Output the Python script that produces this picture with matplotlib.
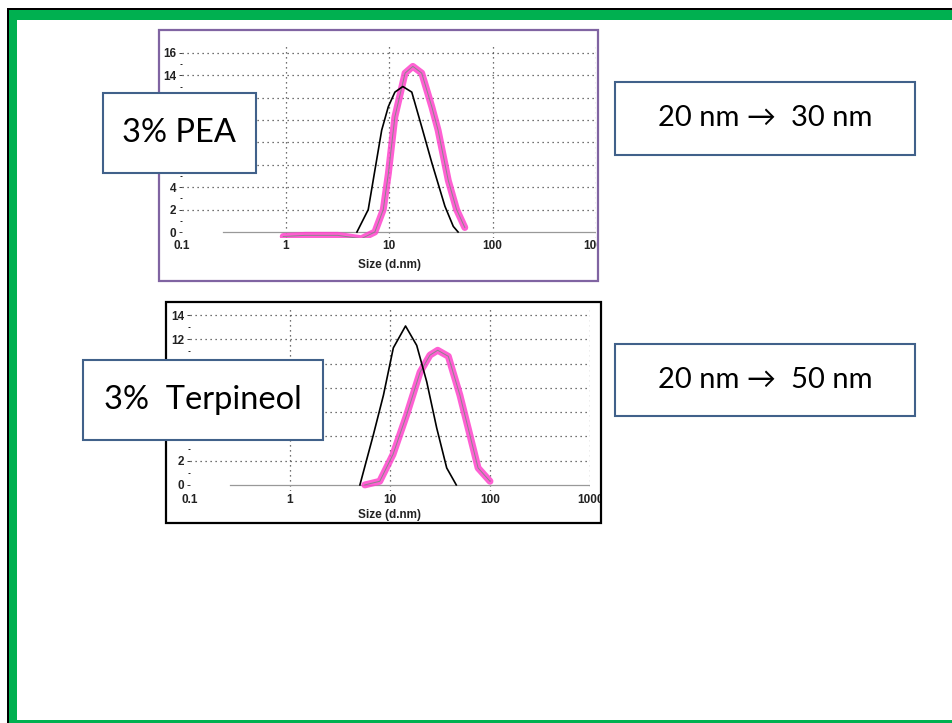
import numpy as np
import matplotlib
matplotlib.use("Agg")
import matplotlib.pyplot as plt
from matplotlib.patches import Rectangle
from matplotlib.transforms import Bbox, TransformedBbox

# ---- data (size in d.nm, intensity %) ----
pea_before_x = [4.9, 6.3, 7.3, 8.5, 9.85, 11.4, 13.6, 16.6, 20.7, 25.9, 34.7, 41.8, 46.5]
pea_before_y = [0.0, 2.0, 5.5, 9.1, 11.2, 12.5, 13.0, 12.5, 9.4, 6.2, 2.3, 0.5, 0.0]
pea_after_x = [0.95, 1.55, 3.2, 5.4, 7.3, 8.8, 9.85, 11.4, 14.3, 17.0, 20.7, 25.9, 29.8, 37.4, 45, 54]
pea_after_y = [-0.4, -0.3, -0.3, -0.6, 0.0, 2.0, 5.2, 10.3, 14.2, 14.8, 14.2, 11.2, 9.1, 4.6, 2.0, 0.4]

terp_before_x = [5.0, 6.8, 8.6, 10.8, 14.3, 18.5, 23.3, 29.3, 36.9, 46.0]
terp_before_y = [0.0, 4.1, 7.4, 11.3, 13.1, 11.5, 8.5, 4.7, 1.4, 0.0]
terp_after_x = [5.6, 7.9, 10.7, 14.7, 20.0, 25.1, 30.0, 38.3, 50.0, 63.0, 76.0, 100.0]
terp_after_y = [0.0, 0.3, 2.5, 5.8, 9.3, 10.7, 11.1, 10.6, 7.4, 4.1, 1.4, 0.3]

xticks = [0.1, 1, 10, 100, 1000]
xtick_labels = ["0.1", "1", "10", "100", "1000"]
pea_yticks = [0, 2, 4, 6, 8, 10, 12, 14, 16]
pea_ylabels = ["0", "2", "4", "", "", "", "", "14", "16"]   # middle ones sit under the label box
terp_yticks = [0, 2, 4, 6, 8, 10, 12, 14]
terp_ylabels = ["0", "2", "", "", "", "", "12", "14"]

W, H = 952, 723
fig = plt.figure(figsize=(W / 100, H / 100), dpi=100)

# background layer in pixel coordinates
bg = fig.add_axes([0, 0, 1, 1], zorder=0)
bg.set_xlim(0, W)
bg.set_ylim(H, 0)
bg.axis("off")

green = "#00b050"
bg.add_patch(Rectangle((7, 8), W, 3, color="black", lw=0))
bg.add_patch(Rectangle((7, 8), 2, H, color="black", lw=0))
bg.add_patch(Rectangle((9, 10), W, 10, color=green, lw=0))
bg.add_patch(Rectangle((9, 10), 8, H, color=green, lw=0))
bg.add_patch(Rectangle((17, 720), W, 3, color=green, lw=0))

# picture frames
frame1 = (159, 30, 439, 251)
frame2 = (166, 302, 435, 221)
bg.add_patch(Rectangle(frame1[:2], frame1[2], frame1[3], fill=False, ec="#8064a2", lw=1.6))
bg.add_patch(Rectangle(frame2[:2], frame2[2], frame2[3], fill=False, ec="black", lw=1.6))


def px_axes(left, right, top, bottom):
    return fig.add_axes([left / W, 1 - bottom / H, (right - left) / W, (bottom - top) / H], zorder=1)


def frame_clip(fr):
    x, y, w, h = fr
    bb = Bbox.from_extents(x / W, 1 - (y + h) / H, (x + w - 1) / W, 1 - y / H)
    return TransformedBbox(bb, fig.transFigure)


def dls_axes(ax, ymax, yticks, ylabels, label_pad, fr):
    ax.set_xscale("log")
    ax.set_xlim(0.1, 1000)
    ax.set_ylim(-0.5, ymax)
    ax.patch.set_alpha(0)
    for s in ax.spines.values():
        s.set_visible(False)
    ax.set_xticks(xticks)
    ax.set_xticklabels(xtick_labels)
    ax.xaxis.set_minor_locator(matplotlib.ticker.NullLocator())
    ax.set_yticks(yticks)
    ax.set_yticklabels(ylabels)
    ax.set_yticks(np.arange(1, yticks[-1], 2), minor=True)
    ax.tick_params(axis="both", labelsize=8.5, colors="#222222", length=2.5, width=0.6, pad=1.5)
    ax.tick_params(axis="x", length=0, pad=2)
    ax.tick_params(axis="y", which="minor", length=1.5)
    clip = frame_clip(fr)
    for lbl in ax.get_xticklabels() + ax.get_yticklabels():
        lbl.set_family("Liberation Sans")
        lbl.set_fontweight("bold")
        lbl.set_clip_box(clip)
        lbl.set_clip_on(True)
    for yv in yticks[1:]:
        ax.axhline(yv, color="#444444", ls=(0, (1, 3)), lw=0.9, zorder=1)
    for xv in [1, 10, 100, 1000]:
        ax.axvline(xv, color="#444444", ls=(0, (1, 3)), lw=0.9, zorder=1)
    ax.axhline(0, xmin=0.1, xmax=1, color="#999999", lw=0.9, zorder=1)
    ax.set_xlabel("Size (d.nm)", fontsize=8.5, family="Liberation Sans",
                  fontweight="bold", color="#222222", labelpad=label_pad)


ax1 = px_axes(182, 596, 44, 237.6)
dls_axes(ax1, 16.8, pea_yticks, pea_ylabels, 5, frame1)
ax1.plot(pea_after_x, pea_after_y, color="#ff44cc", lw=5, alpha=0.85,
         solid_capstyle="round", solid_joinstyle="round", zorder=3)
ax1.plot(pea_after_x, pea_after_y, color="#888888", lw=0.7, zorder=4)
ax1.plot(pea_before_x, pea_before_y, color="black", lw=1.2, zorder=5)

ax2 = px_axes(190, 590, 307.8, 491)
dls_axes(ax2, 14.6, terp_yticks, terp_ylabels, 2, frame2)
ax2.plot(terp_after_x, terp_after_y, color="#ff44cc", lw=5, alpha=0.85,
         solid_capstyle="round", solid_joinstyle="round", zorder=3)
ax2.plot(terp_after_x, terp_after_y, color="#888888", lw=0.7, zorder=4)
ax2.plot(terp_before_x, terp_before_y, color="black", lw=1.2, zorder=5)

# overlay layer for the text boxes
ov = fig.add_axes([0, 0, 1, 1], zorder=2)
ov.set_xlim(0, W)
ov.set_ylim(H, 0)
ov.axis("off")
ov.patch.set_alpha(0)

box_ec = "#41618a"
fam = ["Lato", "DejaVu Sans"]
boxes = [
    (103, 93, 153, 80, "3% PEA", 23.5),
    (83, 360, 240, 80, "3%  Terpineol", 23.5),
    (615, 82, 300, 73, "20 nm \u2192  30 nm", 21),
    (615, 344, 300, 72, "20 nm \u2192  50 nm", 21),
]
for x, y, w, h, txt, fs in boxes:
    ov.add_patch(Rectangle((x, y), w, h, fc="white", ec=box_ec, lw=1.5))
    ov.text(x + w / 2, y + h / 2, txt, ha="center", va="center", fontsize=fs, family=fam, color="black")

fig.savefig("out.png", dpi=100)
